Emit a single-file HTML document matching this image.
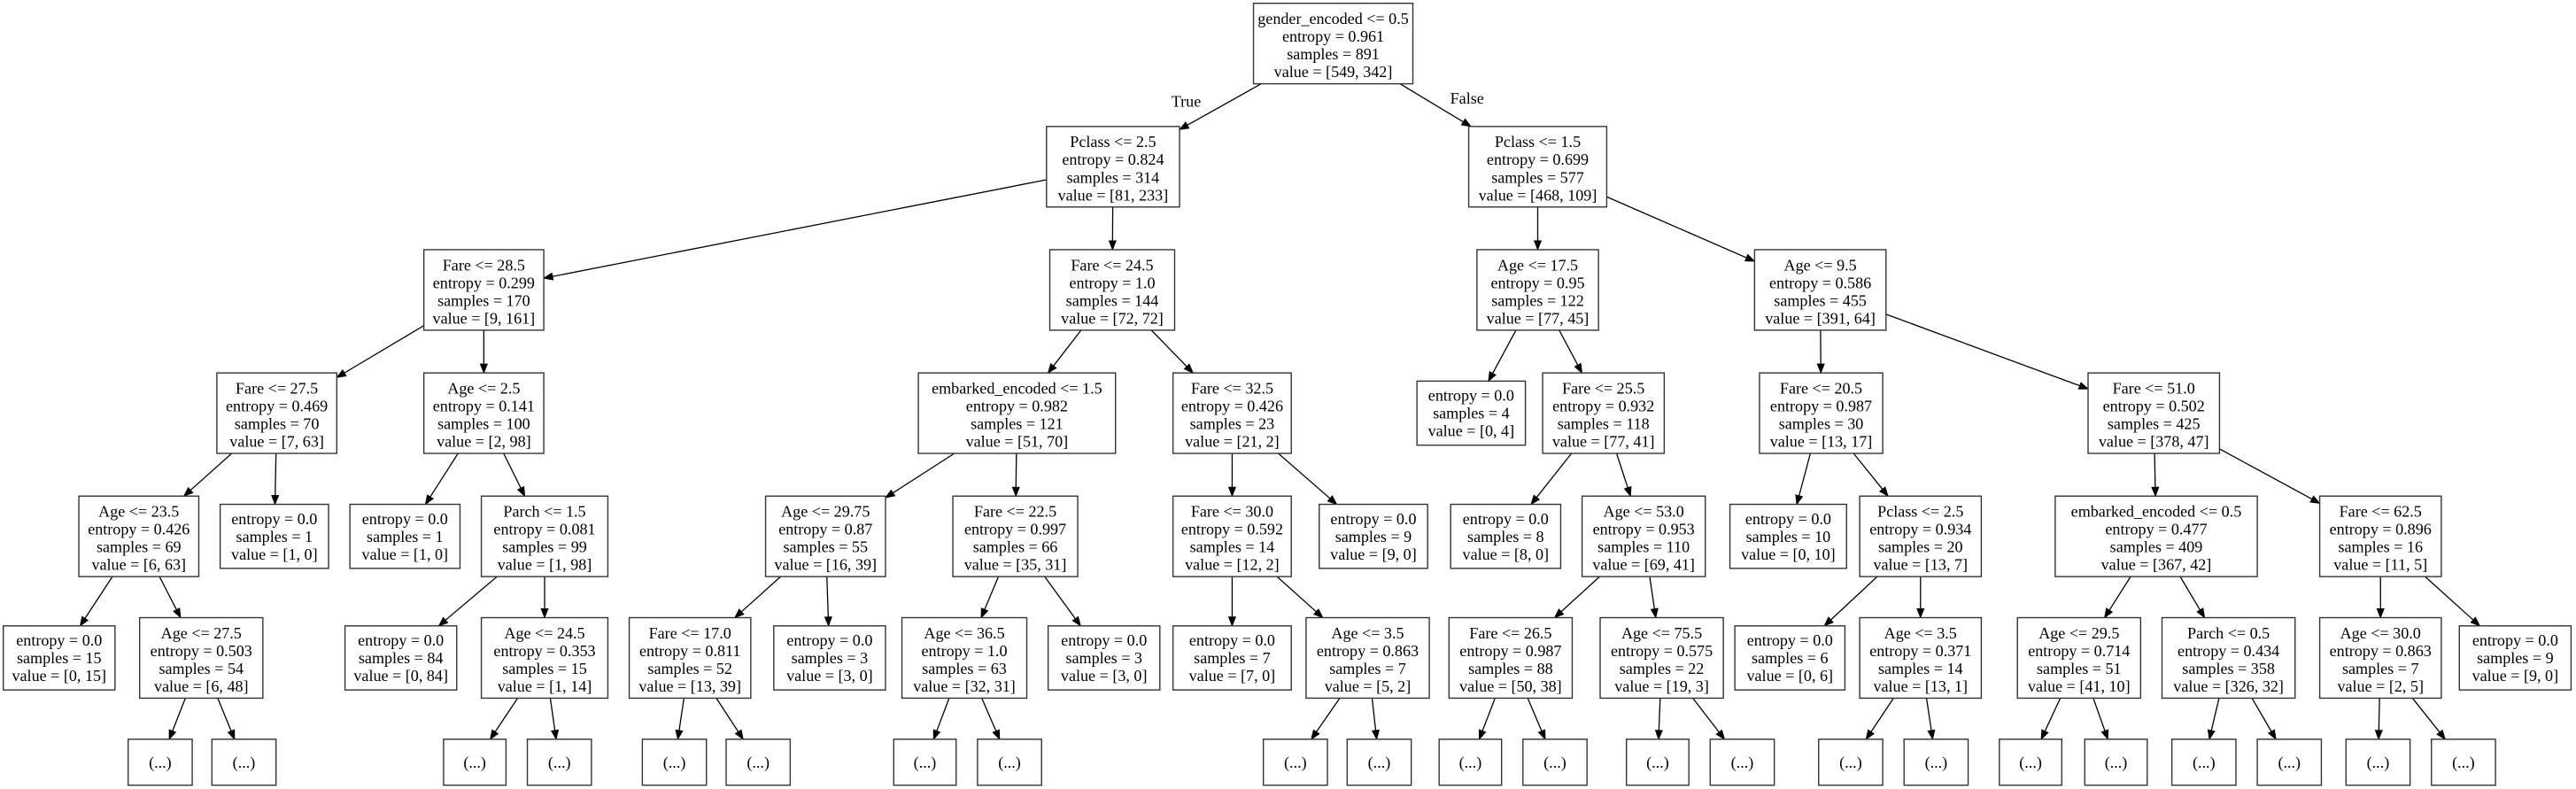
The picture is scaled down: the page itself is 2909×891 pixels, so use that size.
<!DOCTYPE html>
<html><head><meta charset="utf-8">
<style>
html,body{margin:0;padding:0;background:#fff;}
svg{display:block;}
text{font-family:"Liberation Serif",serif;font-size:9.75px;fill:#000;text-anchor:middle;}
rect{fill:#fff;stroke:#333;stroke-width:0.75;}
</style></head><body>
<svg id="s" width="2909" height="891" viewBox="0 0 1568 480.3" preserveAspectRatio="none" xmlns="http://www.w3.org/2000/svg">
<g id="edges"></g>
<text x="722" y="65">True</text>
<text x="893" y="63">False</text>
<g id="nodes">
<!-- level 0 -->
<rect id="n0" x="763" y="2" width="97" height="49"/>
<text x="811.5" y="14.6"><tspan x="811.5">gender_encoded &lt;= 0.5</tspan><tspan x="811.5" dy="10.8">entropy = 0.961</tspan><tspan x="811.5" dy="10.8">samples = 891</tspan><tspan x="811.5" dy="10.8">value = [549, 342]</tspan></text>
<!-- level 1 -->
<rect id="a" x="637" y="77" width="81" height="49"/>
<text x="677.5" y="89.6"><tspan x="677.5">Pclass &lt;= 2.5</tspan><tspan x="677.5" dy="10.8">entropy = 0.824</tspan><tspan x="677.5" dy="10.8">samples = 314</tspan><tspan x="677.5" dy="10.8">value = [81, 233]</tspan></text>
<rect id="b" x="894" y="77" width="84" height="49"/>
<text x="936" y="89.6"><tspan x="936">Pclass &lt;= 1.5</tspan><tspan x="936" dy="10.8">entropy = 0.699</tspan><tspan x="936" dy="10.8">samples = 577</tspan><tspan x="936" dy="10.8">value = [468, 109]</tspan></text>
<!-- level 2 -->
<rect id="a1" x="258" y="152" width="73" height="49"/>
<text x="294.5" y="164.6"><tspan x="294.5">Fare &lt;= 28.5</tspan><tspan x="294.5" dy="10.8">entropy = 0.299</tspan><tspan x="294.5" dy="10.8">samples = 170</tspan><tspan x="294.5" dy="10.8">value = [9, 161]</tspan></text>
<rect id="a2" x="639" y="152" width="76" height="49"/>
<text x="677" y="164.6"><tspan x="677">Fare &lt;= 24.5</tspan><tspan x="677" dy="10.8">entropy = 1.0</tspan><tspan x="677" dy="10.8">samples = 144</tspan><tspan x="677" dy="10.8">value = [72, 72]</tspan></text>
<rect id="b1" x="899" y="152" width="74" height="49"/>
<text x="936" y="164.6"><tspan x="936">Age &lt;= 17.5</tspan><tspan x="936" dy="10.8">entropy = 0.95</tspan><tspan x="936" dy="10.8">samples = 122</tspan><tspan x="936" dy="10.8">value = [77, 45]</tspan></text>
<rect id="b2" x="1068" y="152" width="80" height="49"/>
<text x="1108" y="164.6"><tspan x="1108">Age &lt;= 9.5</tspan><tspan x="1108" dy="10.8">entropy = 0.586</tspan><tspan x="1108" dy="10.8">samples = 455</tspan><tspan x="1108" dy="10.8">value = [391, 64]</tspan></text>
<!-- level 3 -->
<rect id="a11" x="132" y="227" width="73" height="49"/>
<text x="168.5" y="239.6"><tspan x="168.5">Fare &lt;= 27.5</tspan><tspan x="168.5" dy="10.8">entropy = 0.469</tspan><tspan x="168.5" dy="10.8">samples = 70</tspan><tspan x="168.5" dy="10.8">value = [7, 63]</tspan></text>
<rect id="a12" x="258" y="227" width="73" height="49"/>
<text x="294.5" y="239.6"><tspan x="294.5">Age &lt;= 2.5</tspan><tspan x="294.5" dy="10.8">entropy = 0.141</tspan><tspan x="294.5" dy="10.8">samples = 100</tspan><tspan x="294.5" dy="10.8">value = [2, 98]</tspan></text>
<rect id="a21" x="559" y="227" width="120" height="49"/>
<text x="619" y="239.6"><tspan x="619">embarked_encoded &lt;= 1.5</tspan><tspan x="619" dy="10.8">entropy = 0.982</tspan><tspan x="619" dy="10.8">samples = 121</tspan><tspan x="619" dy="10.8">value = [51, 70]</tspan></text>
<rect id="a22" x="714" y="227" width="72" height="49"/>
<text x="750" y="239.6"><tspan x="750">Fare &lt;= 32.5</tspan><tspan x="750" dy="10.8">entropy = 0.426</tspan><tspan x="750" dy="10.8">samples = 23</tspan><tspan x="750" dy="10.8">value = [21, 2]</tspan></text>
<rect id="b11" x="862.5" y="232" width="66" height="39"/>
<text x="895.5" y="244"><tspan x="895.5">entropy = 0.0</tspan><tspan x="895.5" dy="10.8">samples = 4</tspan><tspan x="895.5" dy="10.8">value = [0, 4]</tspan></text>
<rect id="b12" x="939" y="227" width="74" height="49"/>
<text x="976" y="239.6"><tspan x="976">Fare &lt;= 25.5</tspan><tspan x="976" dy="10.8">entropy = 0.932</tspan><tspan x="976" dy="10.8">samples = 118</tspan><tspan x="976" dy="10.8">value = [77, 41]</tspan></text>
<rect id="b21" x="1071" y="227" width="75" height="49"/>
<text x="1108.5" y="239.6"><tspan x="1108.5">Fare &lt;= 20.5</tspan><tspan x="1108.5" dy="10.8">entropy = 0.987</tspan><tspan x="1108.5" dy="10.8">samples = 30</tspan><tspan x="1108.5" dy="10.8">value = [13, 17]</tspan></text>
<rect id="b22" x="1271" y="227" width="80" height="49"/>
<text x="1311" y="239.6"><tspan x="1311">Fare &lt;= 51.0</tspan><tspan x="1311" dy="10.8">entropy = 0.502</tspan><tspan x="1311" dy="10.8">samples = 425</tspan><tspan x="1311" dy="10.8">value = [378, 47]</tspan></text>
<!-- level 4 -->
<rect id="a111" x="48" y="302" width="73" height="49"/>
<text x="84.5" y="314.6"><tspan x="84.5">Age &lt;= 23.5</tspan><tspan x="84.5" dy="10.8">entropy = 0.426</tspan><tspan x="84.5" dy="10.8">samples = 69</tspan><tspan x="84.5" dy="10.8">value = [6, 63]</tspan></text>
<rect id="a112" x="134" y="307" width="66" height="39"/>
<text x="167" y="319"><tspan x="167">entropy = 0.0</tspan><tspan x="167" dy="10.8">samples = 1</tspan><tspan x="167" dy="10.8">value = [1, 0]</tspan></text>
<rect id="a121" x="213" y="307" width="67" height="39"/>
<text x="246.5" y="319"><tspan x="246.5">entropy = 0.0</tspan><tspan x="246.5" dy="10.8">samples = 1</tspan><tspan x="246.5" dy="10.8">value = [1, 0]</tspan></text>
<rect id="a122" x="293" y="302" width="77" height="49"/>
<text x="331.5" y="314.6"><tspan x="331.5">Parch &lt;= 1.5</tspan><tspan x="331.5" dy="10.8">entropy = 0.081</tspan><tspan x="331.5" dy="10.8">samples = 99</tspan><tspan x="331.5" dy="10.8">value = [1, 98]</tspan></text>
<rect id="a211" x="466" y="302" width="73" height="49"/>
<text x="502.5" y="314.6"><tspan x="502.5">Age &lt;= 29.75</tspan><tspan x="502.5" dy="10.8">entropy = 0.87</tspan><tspan x="502.5" dy="10.8">samples = 55</tspan><tspan x="502.5" dy="10.8">value = [16, 39]</tspan></text>
<rect id="a212" x="580" y="302" width="76" height="49"/>
<text x="618" y="314.6"><tspan x="618">Fare &lt;= 22.5</tspan><tspan x="618" dy="10.8">entropy = 0.997</tspan><tspan x="618" dy="10.8">samples = 66</tspan><tspan x="618" dy="10.8">value = [35, 31]</tspan></text>
<rect id="a221" x="714" y="302" width="72" height="49"/>
<text x="750" y="314.6"><tspan x="750">Fare &lt;= 30.0</tspan><tspan x="750" dy="10.8">entropy = 0.592</tspan><tspan x="750" dy="10.8">samples = 14</tspan><tspan x="750" dy="10.8">value = [12, 2]</tspan></text>
<rect id="a222" x="803" y="307" width="66" height="39"/>
<text x="836" y="319"><tspan x="836">entropy = 0.0</tspan><tspan x="836" dy="10.8">samples = 9</tspan><tspan x="836" dy="10.8">value = [9, 0]</tspan></text>
<rect id="b121" x="883" y="307" width="67" height="39"/>
<text x="916.5" y="319"><tspan x="916.5">entropy = 0.0</tspan><tspan x="916.5" dy="10.8">samples = 8</tspan><tspan x="916.5" dy="10.8">value = [8, 0]</tspan></text>
<rect id="b122" x="963" y="302" width="75" height="49"/>
<text x="1000.5" y="314.6"><tspan x="1000.5">Age &lt;= 53.0</tspan><tspan x="1000.5" dy="10.8">entropy = 0.953</tspan><tspan x="1000.5" dy="10.8">samples = 110</tspan><tspan x="1000.5" dy="10.8">value = [69, 41]</tspan></text>
<rect id="b211" x="1053" y="307" width="71" height="39"/>
<text x="1088.5" y="319"><tspan x="1088.5">entropy = 0.0</tspan><tspan x="1088.5" dy="10.8">samples = 10</tspan><tspan x="1088.5" dy="10.8">value = [0, 10]</tspan></text>
<rect id="b212" x="1132" y="302" width="74" height="49"/>
<text x="1169" y="314.6"><tspan x="1169">Pclass &lt;= 2.5</tspan><tspan x="1169" dy="10.8">entropy = 0.934</tspan><tspan x="1169" dy="10.8">samples = 20</tspan><tspan x="1169" dy="10.8">value = [13, 7]</tspan></text>
<rect id="b221" x="1251" y="302" width="123" height="49"/>
<text x="1312.5" y="314.6"><tspan x="1312.5">embarked_encoded &lt;= 0.5</tspan><tspan x="1312.5" dy="10.8">entropy = 0.477</tspan><tspan x="1312.5" dy="10.8">samples = 409</tspan><tspan x="1312.5" dy="10.8">value = [367, 42]</tspan></text>
<rect id="b222" x="1412" y="302" width="74" height="49"/>
<text x="1449" y="314.6"><tspan x="1449">Fare &lt;= 62.5</tspan><tspan x="1449" dy="10.8">entropy = 0.896</tspan><tspan x="1449" dy="10.8">samples = 16</tspan><tspan x="1449" dy="10.8">value = [11, 5]</tspan></text>
<!-- level 5 -->
<rect id="c1" x="2" y="381" width="68" height="39"/>
<text x="36" y="393"><tspan x="36">entropy = 0.0</tspan><tspan x="36" dy="10.8">samples = 15</tspan><tspan x="36" dy="10.8">value = [0, 15]</tspan></text>
<rect id="c2" x="85" y="376" width="75" height="49"/>
<text x="122.5" y="388.6"><tspan x="122.5">Age &lt;= 27.5</tspan><tspan x="122.5" dy="10.8">entropy = 0.503</tspan><tspan x="122.5" dy="10.8">samples = 54</tspan><tspan x="122.5" dy="10.8">value = [6, 48]</tspan></text>
<rect id="c3" x="210" y="381" width="68" height="39"/>
<text x="244" y="393"><tspan x="244">entropy = 0.0</tspan><tspan x="244" dy="10.8">samples = 84</tspan><tspan x="244" dy="10.8">value = [0, 84]</tspan></text>
<rect id="c4" x="293" y="376" width="77" height="49"/>
<text x="331.5" y="388.6"><tspan x="331.5">Age &lt;= 24.5</tspan><tspan x="331.5" dy="10.8">entropy = 0.353</tspan><tspan x="331.5" dy="10.8">samples = 15</tspan><tspan x="331.5" dy="10.8">value = [1, 14]</tspan></text>
<rect id="c5" x="383" y="376" width="74" height="49"/>
<text x="420" y="388.6"><tspan x="420">Fare &lt;= 17.0</tspan><tspan x="420" dy="10.8">entropy = 0.811</tspan><tspan x="420" dy="10.8">samples = 52</tspan><tspan x="420" dy="10.8">value = [13, 39]</tspan></text>
<rect id="c6" x="471" y="381" width="68" height="39"/>
<text x="505" y="393"><tspan x="505">entropy = 0.0</tspan><tspan x="505" dy="10.8">samples = 3</tspan><tspan x="505" dy="10.8">value = [3, 0]</tspan></text>
<rect id="c7" x="549" y="376" width="76" height="49"/>
<text x="587" y="388.6"><tspan x="587">Age &lt;= 36.5</tspan><tspan x="587" dy="10.8">entropy = 1.0</tspan><tspan x="587" dy="10.8">samples = 63</tspan><tspan x="587" dy="10.8">value = [32, 31]</tspan></text>
<rect id="c8" x="638" y="381" width="68" height="39"/>
<text x="672" y="393"><tspan x="672">entropy = 0.0</tspan><tspan x="672" dy="10.8">samples = 3</tspan><tspan x="672" dy="10.8">value = [3, 0]</tspan></text>
<rect id="c9" x="714" y="381" width="72" height="39"/>
<text x="750" y="393"><tspan x="750">entropy = 0.0</tspan><tspan x="750" dy="10.8">samples = 7</tspan><tspan x="750" dy="10.8">value = [7, 0]</tspan></text>
<rect id="c10" x="795" y="376" width="75" height="49"/>
<text x="832.5" y="388.6"><tspan x="832.5">Age &lt;= 3.5</tspan><tspan x="832.5" dy="10.8">entropy = 0.863</tspan><tspan x="832.5" dy="10.8">samples = 7</tspan><tspan x="832.5" dy="10.8">value = [5, 2]</tspan></text>
<rect id="c11" x="882" y="376" width="75" height="49"/>
<text x="919.5" y="388.6"><tspan x="919.5">Fare &lt;= 26.5</tspan><tspan x="919.5" dy="10.8">entropy = 0.987</tspan><tspan x="919.5" dy="10.8">samples = 88</tspan><tspan x="919.5" dy="10.8">value = [50, 38]</tspan></text>
<rect id="c12" x="974" y="376" width="75" height="49"/>
<text x="1011.5" y="388.6"><tspan x="1011.5">Age &lt;= 75.5</tspan><tspan x="1011.5" dy="10.8">entropy = 0.575</tspan><tspan x="1011.5" dy="10.8">samples = 22</tspan><tspan x="1011.5" dy="10.8">value = [19, 3]</tspan></text>
<rect id="c13" x="1056" y="381" width="67" height="39"/>
<text x="1089.5" y="393"><tspan x="1089.5">entropy = 0.0</tspan><tspan x="1089.5" dy="10.8">samples = 6</tspan><tspan x="1089.5" dy="10.8">value = [0, 6]</tspan></text>
<rect id="c14" x="1132" y="376" width="74" height="49"/>
<text x="1169" y="388.6"><tspan x="1169">Age &lt;= 3.5</tspan><tspan x="1169" dy="10.8">entropy = 0.371</tspan><tspan x="1169" dy="10.8">samples = 14</tspan><tspan x="1169" dy="10.8">value = [13, 1]</tspan></text>
<rect id="c15" x="1228" y="376" width="75" height="49"/>
<text x="1265.5" y="388.6"><tspan x="1265.5">Age &lt;= 29.5</tspan><tspan x="1265.5" dy="10.8">entropy = 0.714</tspan><tspan x="1265.5" dy="10.8">samples = 51</tspan><tspan x="1265.5" dy="10.8">value = [41, 10]</tspan></text>
<rect id="c16" x="1316" y="376" width="81" height="49"/>
<text x="1356.5" y="388.6"><tspan x="1356.5">Parch &lt;= 0.5</tspan><tspan x="1356.5" dy="10.8">entropy = 0.434</tspan><tspan x="1356.5" dy="10.8">samples = 358</tspan><tspan x="1356.5" dy="10.8">value = [326, 32]</tspan></text>
<rect id="c17" x="1412" y="376" width="74" height="49"/>
<text x="1449" y="388.6"><tspan x="1449">Age &lt;= 30.0</tspan><tspan x="1449" dy="10.8">entropy = 0.863</tspan><tspan x="1449" dy="10.8">samples = 7</tspan><tspan x="1449" dy="10.8">value = [2, 5]</tspan></text>
<rect id="c18" x="1497" y="381" width="68" height="39"/>
<text x="1531" y="393"><tspan x="1531">entropy = 0.0</tspan><tspan x="1531" dy="10.8">samples = 9</tspan><tspan x="1531" dy="10.8">value = [9, 0]</tspan></text>
<!-- level 6 -->
<rect id="d1" x="78" y="450" width="39" height="28"/><text x="97.5" y="467.5">(...)</text>
<rect id="d2" x="129" y="450" width="39" height="28"/><text x="148.5" y="467.5">(...)</text>
<rect id="d3" x="270" y="450" width="38" height="28"/><text x="289" y="467.5">(...)</text>
<rect id="d4" x="321" y="450" width="39" height="28"/><text x="340.5" y="467.5">(...)</text>
<rect id="d5" x="391" y="450" width="39" height="28"/><text x="410.5" y="467.5">(...)</text>
<rect id="d6" x="442" y="450" width="39" height="28"/><text x="461.5" y="467.5">(...)</text>
<rect id="d7" x="544" y="450" width="38" height="28"/><text x="563" y="467.5">(...)</text>
<rect id="d8" x="595" y="450" width="39" height="28"/><text x="614.5" y="467.5">(...)</text>
<rect id="d9" x="769" y="450" width="39" height="28"/><text x="788.5" y="467.5">(...)</text>
<rect id="d10" x="820" y="450" width="39" height="28"/><text x="839.5" y="467.5">(...)</text>
<rect id="d11" x="876" y="450" width="38" height="28"/><text x="895" y="467.5">(...)</text>
<rect id="d12" x="927" y="450" width="39" height="28"/><text x="946.5" y="467.5">(...)</text>
<rect id="d13" x="990" y="450" width="38" height="28"/><text x="1009" y="467.5">(...)</text>
<rect id="d14" x="1041" y="450" width="39" height="28"/><text x="1060.5" y="467.5">(...)</text>
<rect id="d15" x="1107" y="450" width="39" height="28"/><text x="1126.5" y="467.5">(...)</text>
<rect id="d16" x="1159" y="450" width="39" height="28"/><text x="1178.5" y="467.5">(...)</text>
<rect id="d17" x="1217" y="450" width="38" height="28"/><text x="1236" y="467.5">(...)</text>
<rect id="d18" x="1269" y="450" width="38" height="28"/><text x="1288" y="467.5">(...)</text>
<rect id="d19" x="1322" y="450" width="39" height="28"/><text x="1341.5" y="467.5">(...)</text>
<rect id="d20" x="1374" y="450" width="39" height="28"/><text x="1393.5" y="467.5">(...)</text>
<rect id="d21" x="1428" y="450" width="39" height="28"/><text x="1447.5" y="467.5">(...)</text>
<rect id="d22" x="1480" y="450" width="39" height="28"/><text x="1499.5" y="467.5">(...)</text>
</g>
</svg>
<script>
(function(){
var E=[["n0","a"],["n0","b"],["a","a1"],["a","a2"],["b","b1"],["b","b2"],
["a1","a11"],["a1","a12"],["a2","a21"],["a2","a22"],["b1","b11"],["b1","b12"],["b2","b21"],["b2","b22"],
["a11","a111"],["a11","a112"],["a12","a121"],["a12","a122"],["a21","a211"],["a21","a212"],["a22","a221"],["a22","a222"],
["b12","b121"],["b12","b122"],["b21","b211"],["b21","b212"],["b22","b221"],["b22","b222"],
["a111","c1"],["a111","c2"],["a122","c3"],["a122","c4"],["a211","c5"],["a211","c6"],["a212","c7"],["a212","c8"],
["a221","c9"],["a221","c10"],["b122","c11"],["b122","c12"],["b212","c13"],["b212","c14"],["b221","c15"],["b221","c16"],
["b222","c17"],["b222","c18"],
["c2","d1"],["c2","d2"],["c4","d3"],["c4","d4"],["c5","d5"],["c5","d6"],["c7","d7"],["c7","d8"],
["c10","d9"],["c10","d10"],["c11","d11"],["c11","d12"],["c12","d13"],["c12","d14"],["c14","d15"],["c14","d16"],
["c15","d17"],["c15","d18"],["c16","d19"],["c16","d20"],["c17","d21"],["c17","d22"]];
function R(id){var r=document.getElementById(id);var x=+r.getAttribute("x"),y=+r.getAttribute("y"),w=+r.getAttribute("width"),h=+r.getAttribute("height");return {x:x,y:y,w:w,h:h,cx:x+w/2,cy:y+h/2};}
function clip(b,dx,dy){var t=1e9;if(dx)t=Math.min(t,(b.w/2)/Math.abs(dx));if(dy)t=Math.min(t,(b.h/2)/Math.abs(dy));return t;}
var g=document.getElementById("edges"),ns="http://www.w3.org/2000/svg",out="";
E.forEach(function(e){var p=R(e[0]),c=R(e[1]);var dx=c.cx-p.cx,dy=c.cy-p.cy;
var t0=clip(p,dx,dy),t1=1-clip(c,-dx,-dy);
var sx=p.cx+dx*t0,sy=p.cy+dy*t0,ex=p.cx+dx*t1,ey=p.cy+dy*t1;
var L=Math.hypot(ex-sx,ey-sy),ux=(ex-sx)/L,uy=(ey-sy)/L,al=5.4,aw=2.1;
var bx=ex-ux*al,by=ey-uy*al;
out+='<line x1="'+sx+'" y1="'+sy+'" x2="'+bx+'" y2="'+by+'" stroke="#000" stroke-width="0.7"/>';
out+='<polygon points="'+ex+','+ey+' '+(bx-uy*aw)+','+(by+ux*aw)+' '+(bx+uy*aw)+','+(by-ux*aw)+'" fill="#000" stroke="#000" stroke-width="0.5"/>';});
g.innerHTML=out;})();
</script>
</body></html>
